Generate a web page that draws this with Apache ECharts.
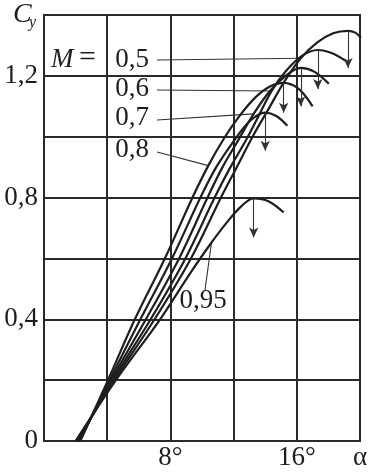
<!DOCTYPE html>
<html><head><meta charset="utf-8">
<script src="https://cdn.jsdelivr.net/npm/echarts@6/dist/echarts.min.js"></script>
<style>html,body{margin:0;padding:0;background:#fff}#c{width:379px;height:473px}</style>
</head><body><div id="c"></div>
<script>
// ---- data (alpha in degrees, Cy) ----
const machNames = ['0,5', '0,6', '0,7', '0,8', '0,9', '0,95'];
const alpha_05 = [2.1, 4.45, 7.0, 9.3, 11.2, 12.2, 13.2, 14.2, 15.2, 16.25, 17.3, 18.3, 19.24, 19.7, 20.06];
const cy_05    = [0, 0.2, 0.4, 0.6, 0.8, 0.9, 1.0, 1.09, 1.18, 1.258, 1.31, 1.34, 1.348, 1.342, 1.325];
const alpha_06 = [2.15, 4.35, 6.75, 8.95, 10.8, 11.8, 12.8, 13.6, 14.4, 15.3, 16.3, 17.33, 18.2, 19.1];
const cy_06    = [0, 0.2, 0.4, 0.6, 0.8, 0.9, 0.99, 1.07, 1.15, 1.215, 1.265, 1.285, 1.275, 1.249];
const alpha_07 = [2.2, 4.25, 6.45, 8.55, 10.35, 11.3, 12.2, 13.27, 14.3, 15.3, 16.25, 17.1, 18.03];
const cy_07    = [0, 0.2, 0.4, 0.6, 0.8, 0.9, 0.98, 1.075, 1.15, 1.2, 1.226, 1.214, 1.174];
const alpha_08 = [2.3, 4.05, 5.75, 7.65, 9.4, 10.4, 11.4, 12.4, 13.4, 14.3, 15.17, 16.1, 17.0];
const cy_08    = [0, 0.2, 0.4, 0.6, 0.8, 0.905, 0.995, 1.07, 1.13, 1.165, 1.177, 1.158, 1.10];
const alpha_09 = [2.25, 4.15, 6.1, 8.1, 9.9, 10.9, 12, 13, 14, 14.7, 15.4];
const cy_09    = [0, 0.2, 0.4, 0.6, 0.8, 0.9, 0.985, 1.05, 1.079, 1.068, 1.036];
const alpha_095 = [2.0, 4.55, 7.35, 9.3, 10.5, 11.6, 12.5, 13.27, 14.2, 15.17];
const cy_095    = [0, 0.2, 0.4, 0.555, 0.645, 0.72, 0.772, 0.797, 0.788, 0.751];
// arrow tips below each maximum (Cy)
const arrowTip = [1.226, 1.157, 1.10, 1.079, 0.954, 0.669];
// where the label leaders touch the curves (alpha)
const leaderAlpha = [16.25, 14.4, 13.27, 10.4, null, 10.6];
// axis
const xTicksShown = {8: '8°', 16: '16°', 20: 'α'};
const yTicksShown = [0, 0.4, 0.8, 1.2];

const alphas = [alpha_05, alpha_06, alpha_07, alpha_08, alpha_09, alpha_095];
const cys = [cy_05, cy_06, cy_07, cy_08, cy_09, cy_095];

const FONT = '"Liberation Serif", "DejaVu Serif", serif';
const INK = '#1e1e1e';

function interp(a, xs, ys) {
  for (let i = 1; i < xs.length; i++) {
    if (a <= xs[i]) { const t = (a - xs[i-1]) / (xs[i] - xs[i-1]); return ys[i-1] + t * (ys[i] - ys[i-1]); }
  }
  return ys[ys.length - 1];
}

const series = alphas.map((xs, k) => {
  const ys = cys[k];
  let im = 0; ys.forEach((v, i) => { if (v > ys[im]) im = i; });
  return {
    type: 'line', name: machNames[k], smooth: 0.35, symbol: 'none', silent: true,
    lineStyle: {color: INK, width: 2.2},
    data: xs.map((x, i) => [x, ys[i]]),
    markLine: {
      silent: true, animation: false,
      symbol: ['none', 'arrow'], symbolSize: [7, 10],
      lineStyle: {color: '#333', width: 1.1, type: 'solid'},
      label: {show: false}, emphasis: {disabled: true},
      data: [[{coord: [xs[im], ys[im]]}, {coord: [xs[im], arrowTip[k]]}]]
    }
  };
});

const chart = echarts.init(document.getElementById('c'), null, {renderer: 'canvas'});
chart.setOption({
  animation: false,
  backgroundColor: '#fff',
  grid: {left: 44, right: 19, top: 15, bottom: 32, show: true, borderColor: '#2a2a2a', borderWidth: 2},
  xAxis: {
    type: 'value', min: 0, max: 20, interval: 4,
    axisLine: {show: true, lineStyle: {color: '#2a2a2a', width: 2}},
    axisTick: {show: false},
    splitLine: {show: true, lineStyle: {color: '#2a2a2a', width: 2}},
    axisLabel: {
      margin: 3, color: INK, fontFamily: FONT, fontSize: 27, showMaxLabel: true,
      formatter: v => xTicksShown[Math.round(v)] || ''
    }
  },
  yAxis: {
    type: 'value', min: 0, max: 1.4, interval: 0.2,
    axisLine: {show: true, lineStyle: {color: '#2a2a2a', width: 2}},
    axisTick: {show: false},
    splitLine: {show: true, lineStyle: {color: '#2a2a2a', width: 2}},
    axisLabel: {
      margin: 6, color: INK, fontFamily: FONT, fontSize: 27,
      formatter: v => {
        const r = Math.round(v * 10) / 10;
        if (!yTicksShown.some(t => Math.abs(t - r) < 1e-6)) return '';
        return r === 0 ? '0' : r.toFixed(1).replace('.', ',');
      }
    }
  },
  series: series
});

// annotations: labels and leader lines
const labelPos = [[149, 60], [149, 89], [149, 118], [149, 150], null, [203, 301]];
const leaderStart = [[157, 60], [157, 90], [157, 120], [157, 152], null, [205, 290]];
const graphics = [
  {type: 'text', x: 13, y: 1, style: {text: 'C', fontFamily: FONT, fontStyle: 'italic', fontSize: 28, fill: INK}},
  {type: 'text', x: 29, y: 15, style: {text: 'y', fontFamily: FONT, fontStyle: 'italic', fontSize: 16, fill: INK}},
  {type: 'text', x: 51, y: 60, style: {text: 'M', fontFamily: FONT, fontStyle: 'italic', fontSize: 27, fill: INK, textAlign: 'left', textVerticalAlign: 'middle'}},
  {type: 'text', x: 79, y: 58, style: {text: '=', fontFamily: FONT, fontSize: 30, fill: INK, textAlign: 'left', textVerticalAlign: 'middle'}}
];
machNames.forEach((name, k) => {
  if (!labelPos[k]) return;
  const isLast = k === machNames.length - 1;
  graphics.push({type: 'text', x: labelPos[k][0], y: labelPos[k][1],
    style: {text: name, fontFamily: FONT, fontSize: 27, fill: INK,
      textAlign: isLast ? 'center' : 'right', textVerticalAlign: 'middle'}});
  const a = leaderAlpha[k];
  const p = chart.convertToPixel({gridIndex: 0}, [a, interp(a, alphas[k], cys[k])]);
  graphics.push({type: 'line', shape: {x1: leaderStart[k][0], y1: leaderStart[k][1], x2: p[0], y2: p[1]},
    style: {stroke: '#333', lineWidth: 1.1}});
});
chart.setOption({graphic: graphics});
</script>
</body></html>
